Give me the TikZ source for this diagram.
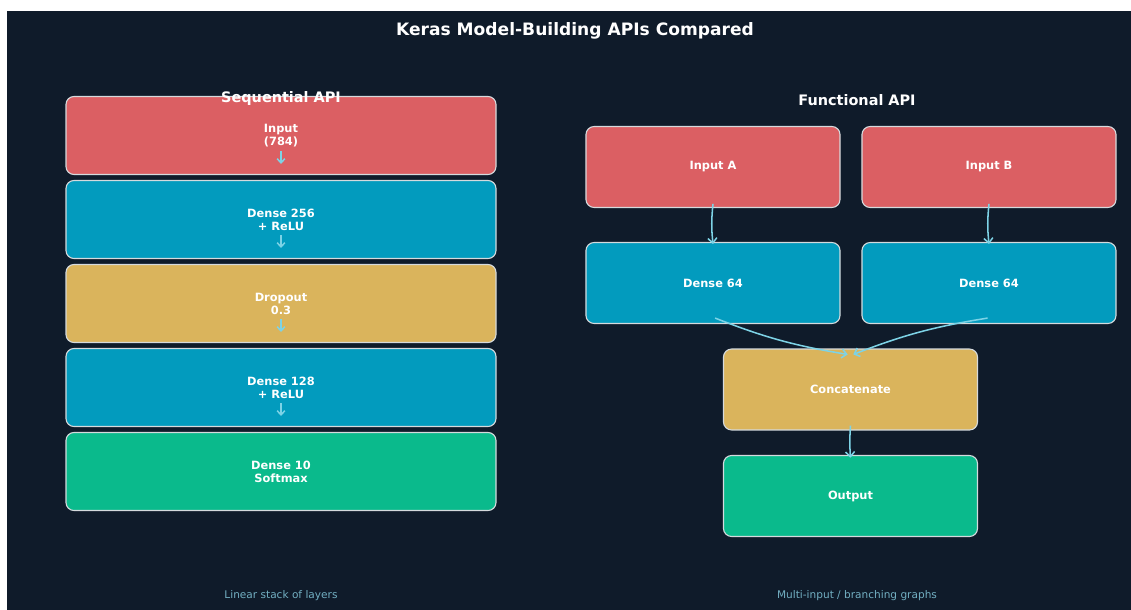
\documentclass[tikz,border=0pt]{standalone}
\usepackage{fontspec}
\setmainfont{DejaVu Sans}
\usetikzlibrary{arrows.meta}
\definecolor{bg}{HTML}{0F1B2A}
\definecolor{redbox}{HTML}{DB5F63}
\definecolor{bluebox}{HTML}{029BBE}
\definecolor{yellowbox}{HTML}{DAB45C}
\definecolor{greenbox}{HTML}{0ABA8C}
\definecolor{edge}{HTML}{D5DADD}
\definecolor{flow}{HTML}{7DD3E6}
\definecolor{note}{HTML}{72AFC2}
\tikzset{
  layer/.style={rounded corners=5.8pt, draw=edge, line width=0.8pt, text=white,
    font=\bfseries\fontsize{8.2}{9.4}\selectfont, align=center, inner sep=0pt},
  seqbox/.style={layer, minimum width=309.6pt, minimum height=56.2pt},
  funbox/.style={layer, minimum width=182.9pt, minimum height=58.3pt},
  seqarrow/.style={draw=flow, line width=1.1pt, -{Straight Barb[length=3pt,width=5.5pt]}},
  funarrow/.style={draw=flow, line width=1.1pt, -{Straight Barb[length=3.5pt,width=6.5pt]}},
  heading/.style={text=white, font=\bfseries\fontsize{10.4}{12}\selectfont},
  footnote/.style={text=note, font=\fontsize{7.6}{9}\selectfont}
}
\begin{document}
\begin{tikzpicture}[x=0.72pt, y=-0.72pt]
\useasboundingbox (0,0) rectangle (1131,610);
\fill[white] (0,0) rectangle (1131,610);
\fill[bg] (7,11) rectangle (1131,610);

% title
\node[text=white, font=\bfseries\fontsize{12.3}{14}\selectfont] (title) at (575,30.5) {Keras Model-Building APIs Compared};

% Sequential stack
\node[seqbox, fill=redbox]    (s1) at (281,135.5) {Input\\(784)};
\node[seqbox, fill=bluebox]   (s2) at (281,219.5) {Dense 256\\+ ReLU};
\node[seqbox, fill=yellowbox] (s3) at (281,303.5) {Dropout\\0.3};
\node[seqbox, fill=bluebox]   (s4) at (281,387.5) {Dense 128\\+ ReLU};
\node[seqbox, fill=greenbox]  (s5) at (281,471.5) {Dense 10\\Softmax};
\node[heading] (seqhead) at (281,98.5) {Sequential API};

\foreach \i/\y in {1/151, 2/235, 3/319, 4/403} {
  \coordinate (a\i) at (281,\y);
  \coordinate (b\i) at (281,\y+13);
  \draw[seqarrow] (a\i) -- (b\i);
}

% Functional graph
\node[heading] (funhead) at (857,100) {Functional API};
\node[funbox, fill=redbox]  (ia) at (713,167) {Input A};
\node[funbox, fill=redbox]  (ib) at (989,167) {Input B};
\node[funbox, fill=bluebox] (da) at (713,283) {Dense 64};
\node[funbox, fill=bluebox] (db) at (989,283) {Dense 64};
\node[funbox, fill=yellowbox] (cat) at (850.5,389.5) {Concatenate};
\node[funbox, fill=greenbox]  (out) at (850.5,496) {Output};

\draw[funarrow] ([yshift=3pt]ia.south) to[bend right=6] ([yshift=-1.5pt]da.north);
\draw[funarrow] ([yshift=3pt]ib.south) to[bend right=6] ([yshift=-1.5pt]db.north);
\draw[funarrow] ([xshift=1.5pt,yshift=4.3pt]da.south) to[bend right=6] ([xshift=-2pt,yshift=-4.3pt]cat.north);
\draw[funarrow] ([xshift=-1pt,yshift=4.3pt]db.south) to[bend right=6] ([xshift=2pt,yshift=-4.3pt]cat.north);
\draw[funarrow] ([yshift=3.5pt]cat.south) to[bend right=4] ([yshift=-2pt]out.north);

% captions
\node[footnote] (seqnote) at (281,595.5) {Linear stack of layers};
\node[footnote] (funnote) at (857,595.5) {Multi-input / branching graphs};
\end{tikzpicture}
\end{document}
